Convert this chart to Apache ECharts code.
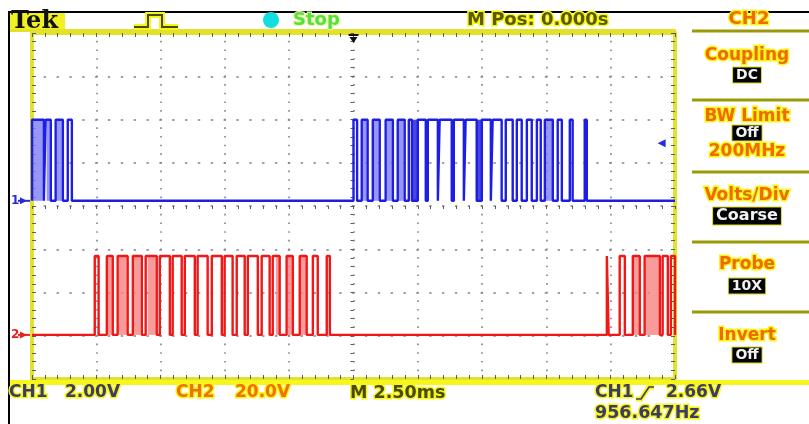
<!DOCTYPE html>
<html><head><meta charset="utf-8">
<script src="https://cdn.jsdelivr.net/npm/echarts@6/dist/echarts.min.js"></script>
<style>html,body{margin:0;padding:0;background:#fff}#c{width:809px;height:424px}</style>
</head><body><div id="c"></div>
<script>
// ---- time axis (ms), 2.5 ms/div, 10 divisions ----
const tMin = -12.5, tMax = 12.5, tDiv = 2.5;
// vertical divisions (center = 0)
const yMin = -4, yMax = 4;

// ---- CH1 (blue), 2.00 V/div ----
const ch1Scale = 2.0;          // V/div
const ch1Pos = 0.12;           // ground marker position (div)
const ch1Levels = [0, 3.75];   // low, high (V)
const ch1Pulses = [
  [-12.50,-12.04],[-11.97,-11.77],[-11.58,-11.30],[-11.11,-10.95],
  [0.00,0.14],[0.32,0.55],[0.75,1.02],[1.25,1.53],[1.72,1.99],[2.15,2.27],
  [2.50,2.81],[2.89,3.28],[3.35,3.82],[3.90,4.29],[4.36,4.79],[4.99,5.34],
  [5.41,5.76],[5.92,6.19],[6.35,6.54],[6.74,6.93],[7.13,7.28],[7.44,7.75],
  [7.94,8.10],[8.41,8.52],[8.99,9.07]
];
const ch1Shaded = [[-12.47,-12.08],[-11.93,-11.81],[-11.54,-11.34],[0.36,0.52],[0.79,0.98],[1.29,1.49],[1.76,1.95],[7.47,7.72]];
const ch1Dense = [[2.27,2.50],[4.79,4.99]];
const triggerLevel = 2.66;     // V on CH1

// ---- CH2 (red), 20.0 V/div ----
const ch2Scale = 20.0;
const ch2Pos = -2.98;
const ch2Levels = [0, 36.5];
const ch2Pulses = [
  [-10.06,-9.91],[-9.59,-9.36],[-9.17,-8.78],[-8.58,-8.23],[-8.08,-7.65],[-7.53,-7.14],
  [-7.03,-6.68],[-6.56,-6.17],[-6.06,-5.67],[-5.51,-5.12],[-5.01,-4.70],[-4.54,-4.23],
  [-4.11,-3.72],[-3.57,-3.26],[-3.14,-2.87],[-2.60,-2.36],[-2.09,-1.82],[-1.58,-1.39],[-1.04,-0.92],
  [9.85,9.92],[10.35,10.55],[10.86,11.13],[11.32,11.91],[12.02,12.22],[12.34,12.50]
];
const ch2Shaded = [[-9.55,-9.40],[-9.13,-8.82],[-8.54,-8.28],[-8.00,-7.69],[-3.02,-2.90],[-2.56,-2.40],[-2.05,-1.85],[10.90,11.09],[11.36,11.87]];

// ---- texts ----
const headerTexts = {brand:'Tek', state:'Stop', mpos:'M Pos: 0.000s', menu:'CH2'};
const menuLabels = ['Coupling','BW Limit','Volts/Div','Probe','Invert'];
const menuValues = ['DC','Off','Coarse','10X','Off'];
const bwExtra = '200MHz';
const footer = {ch1:'CH1', ch1v:'2.00V', ch2:'CH2', ch2v:'20.0V', time:'M 2.50ms', trig:'CH1', trigv:'2.66V', freq:'956.647Hz'};

const ch1Div = v => ch1Pos + v / ch1Scale;
const ch2Div = v => ch2Pos + v / ch2Scale;
function wave(pulses, lo, hi) {
  const pts = [];
  if (pulses[0][0] > tMin) pts.push([tMin, lo]);
  pulses.forEach(([s, e]) => { pts.push([s, lo], [s, hi], [e, hi], [e, lo]); });
  if (pulses[pulses.length - 1][1] < tMax) pts.push([tMax, lo]);
  return pts;
}
function areas(list, lo, hi, color) {
  return list.map(([s, e]) => [{xAxis: s, yAxis: lo, itemStyle: {color: color}}, {xAxis: e, yAxis: hi}]);
}

const chart = echarts.init(document.getElementById('c'));
const GRID = {left: 32, top: 33, width: 643, height: 346};
const BORDER = '#e2e22c';
const TICK = '#5a5a5a';
const DOT = '#828282';

function frameAxis(pos, extra) {
  const vert = pos === 'left' || pos === 'right';
  return Object.assign({
    type: 'value', position: pos, min: vert ? yMin : tMin, max: vert ? yMax : tMax,
    interval: vert ? 1 : tDiv,
    axisLine: {show: true, onZero: false, lineStyle: {color: BORDER, width: 4}},
    axisTick: {show: true, inside: true, length: 4, lineStyle: {color: TICK, width: 1}},
    minorTick: {show: true, splitNumber: 5, length: 4, lineStyle: {color: TICK, width: 1}},
    axisLabel: {show: false}, splitLine: {show: false}
  }, extra || {});
}

const lo1 = ch1Div(ch1Levels[0]), hi1 = ch1Div(ch1Levels[1]);
const lo2 = ch2Div(ch2Levels[0]), hi2 = ch2Div(ch2Levels[1]);

chart.setOption({
  animation: false,
  backgroundColor: '#ffffff',
  grid: Object.assign({outerBoundsMode: 'none', containLabel: false}, GRID),
  xAxis: [
    frameAxis('bottom', {splitLine: {show: true, lineStyle: {color: DOT, width: 1.6, type: [1.6, 7.05], dashOffset: 0.8}}}),
    frameAxis('top'),
    frameAxis('bottom', {offset: -GRID.height / 2, axisLine: {show: false, onZero: false},
      axisTick: {show: true, inside: false, length: 3, lineStyle: {color: TICK}},
      minorTick: {show: true, splitNumber: 5, length: 3, lineStyle: {color: TICK}}})
  ],
  yAxis: [
    frameAxis('left', {splitLine: {show: true, lineStyle: {color: DOT, width: 1.6, type: [2.4, 10.45], dashOffset: 1.2}}}),
    frameAxis('right'),
    frameAxis('left', {offset: -GRID.width / 2, axisLine: {show: false, onZero: false},
      axisTick: {show: true, inside: false, length: 3, lineStyle: {color: TICK}},
      minorTick: {show: true, splitNumber: 5, length: 3, lineStyle: {color: TICK}}})
  ],
  series: [
    {
      type: 'line', name: 'CH1', xAxisIndex: 0, yAxisIndex: 0, symbol: 'none', z: 6,
      data: wave(ch1Pulses, lo1, hi1),
      lineStyle: {color: '#1d1de4', width: 2.4},
      markArea: {silent: true, data: areas(ch1Shaded, lo1, hi1, 'rgba(125,125,245,0.8)').concat(areas(ch1Dense, lo1, hi1, 'rgba(40,40,220,0.85)'))},
      markPoint: {silent: true, label: {show: false}, data: [
        {coord: [11.98, ch1Div(triggerLevel)], symbol: 'triangle', symbolRotate: 90, symbolSize: [8, 8], itemStyle: {color: '#2a2ae6'}},
        {coord: [0, 3.87], symbol: 'path://M0,0 L10,0 L10,2 L0,2 Z M1,3 L9,3 L5,9 Z', symbolSize: [10, 9], itemStyle: {color: '#111'}}
      ]}
    },
    {
      type: 'line', name: 'CH2', xAxisIndex: 0, yAxisIndex: 0, symbol: 'none', z: 5,
      data: wave(ch2Pulses, lo2, hi2),
      lineStyle: {color: '#f21616', width: 2.4},
      markArea: {silent: true, data: areas(ch2Shaded, lo2, hi2, 'rgba(245,130,130,0.8)')}
    }
  ]
});

// ---- decorations / texts ----
const YEL = '#f6f61a';
const F = "'DejaVu Sans'";
function T(text, x, y, color, size, align, opts) {
  return Object.assign({type: 'text', z: 100, silent: true, style: Object.assign({
    text: text, x: x, y: y, fill: color, font: 'bold ' + size + 'px ' + F,
    align: align || 'center', verticalAlign: 'middle', textAlign: align || 'center', textVerticalAlign: 'middle',
    stroke: YEL, lineWidth: 3
  }, opts || {})});
}
function BOX(text, x, y, size) {
  return {type: 'text', z: 100, silent: true, style: {
    text: text, x: x, y: y, fill: '#f2f2f2', font: 'bold ' + size + 'px ' + F,
    align: 'center', verticalAlign: 'middle', textAlign: 'center', textVerticalAlign: 'middle',
    backgroundColor: '#050505', padding: [1, 3, 0, 3], borderColor: '#d8d820', borderWidth: 1
  }};
}
const g = [];
// outer black frame lines
g.push({type: 'rect', z: 90, silent: true, shape: {x: 8, y: 11, width: 801, height: 2}, style: {fill: '#000'}});
g.push({type: 'rect', z: 90, silent: true, shape: {x: 8, y: 11, width: 2, height: 413}, style: {fill: '#000'}});
// header
g.push({type: 'rect', z: 91, silent: true, shape: {x: 10, y: 13, width: 55, height: 17}, style: {fill: '#f0f022'}});
g.push({type: 'rect', z: 91, silent: true, shape: {x: 10, y: 29, width: 666, height: 3}, style: {fill: BORDER}});
g.push({type: 'text', z: 100, silent: true, style: {text: headerTexts.brand, x: 11, y: 22, fill: '#111',
  font: 'bold 24px "DejaVu Serif"', align: 'left', verticalAlign: 'middle', textAlign: 'left', textVerticalAlign: 'middle'}});
g.push({type: 'polyline', z: 99, silent: true, shape: {points: [[134,27],[148,27],[148,15],[162,15],[162,27],[178,27]]}, style: {stroke: YEL, lineWidth: 6, fill: null}});
g.push({type: 'polyline', z: 100, silent: true, shape: {points: [[134,27],[148,27],[148,15],[162,15],[162,27],[178,27]]}, style: {stroke: '#4a4a00', lineWidth: 2, fill: null}});
g.push({type: 'circle', z: 100, silent: true, shape: {cx: 271, cy: 20, r: 8}, style: {fill: '#12dede'}});
g.push(T(headerTexts.state, 293, 20, '#55e040', 18, 'left', {stroke: '#e8f8a0', lineWidth: 2}));
g.push(T(headerTexts.mpos, 467, 20, '#5a5a00', 18, 'left'));
g.push(T(headerTexts.menu, 749, 19, '#f06a00', 18));
// right panel dividers
[31, 100, 172, 242, 312].forEach(y => {
  g.push({type: 'rect', z: 91, silent: true, shape: {x: 692, y: y - 1.5, width: 117, height: 3}, style: {fill: '#9a9a06'}});
});
// right panel labels
const labelY = [56, 117, 196, 265, 336];
const valueY = [75, 133, 216, 286, 355];
menuLabels.forEach((s, i) => g.push(T(s, 747, labelY[i], '#f06a00', 17)));
menuValues.forEach((s, i) => g.push(BOX(s, 747, valueY[i], s === 'Coarse' ? 16 : 14)));
g.push(T(bwExtra, 747, 152, '#f06a00', 17));
// bottom yellow band
g.push({type: 'rect', z: 91, silent: true, shape: {x: 10, y: 380, width: 799, height: 5}, style: {fill: YEL}});
// footer texts
const SL = '#3c3c66';
g.push(T(footer.ch1, 9, 393, SL, 17, 'left'));
g.push(T(footer.ch1v, 65, 393, SL, 17, 'left'));
g.push(T(footer.ch2, 176, 393, '#f07000', 17, 'left'));
g.push(T(footer.ch2v, 235, 393, '#f07000', 17, 'left'));
g.push(T(footer.time, 350, 393, '#4a4a00', 17.5, 'left'));
g.push(T(footer.trig, 595, 393, SL, 17, 'left'));
g.push({type: 'polyline', z: 99, silent: true, shape: {points: [[636,399],[641,399],[649,387],[654,387]]}, style: {stroke: YEL, lineWidth: 5, fill: null}});
g.push({type: 'polyline', z: 100, silent: true, shape: {points: [[636,399],[641,399],[649,387],[654,387]]}, style: {stroke: SL, lineWidth: 1.6, fill: null}});
g.push(T(footer.trigv, 666, 393, SL, 17, 'left'));
g.push(T(footer.freq, 595, 413, SL, 17.5, 'left'));
// channel ground markers, placed through the axis scale
const y1 = chart.convertToPixel({yAxisIndex: 0}, ch1Div(0));
const y2 = chart.convertToPixel({yAxisIndex: 0}, ch2Div(0));
[[y1, '1', '#2a2ad0'], [y2, '2', '#e82020']].forEach(([yy, s, c]) => {
  g.push({type: 'text', z: 100, silent: true, style: {text: s, x: 11, y: yy, fill: c, font: 'bold 12px ' + F,
    align: 'left', verticalAlign: 'middle', textAlign: 'left', textVerticalAlign: 'middle'}});
  g.push({type: 'polygon', z: 100, silent: true, shape: {points: [[20, yy - 3.5], [27, yy], [20, yy + 3.5]]}, style: {fill: c}});
  g.push({type: 'rect', z: 100, silent: true, shape: {x: 18, y: yy - 1, width: 12, height: 2}, style: {fill: c}});
});
chart.setOption({graphic: g});
</script>
</body></html>
